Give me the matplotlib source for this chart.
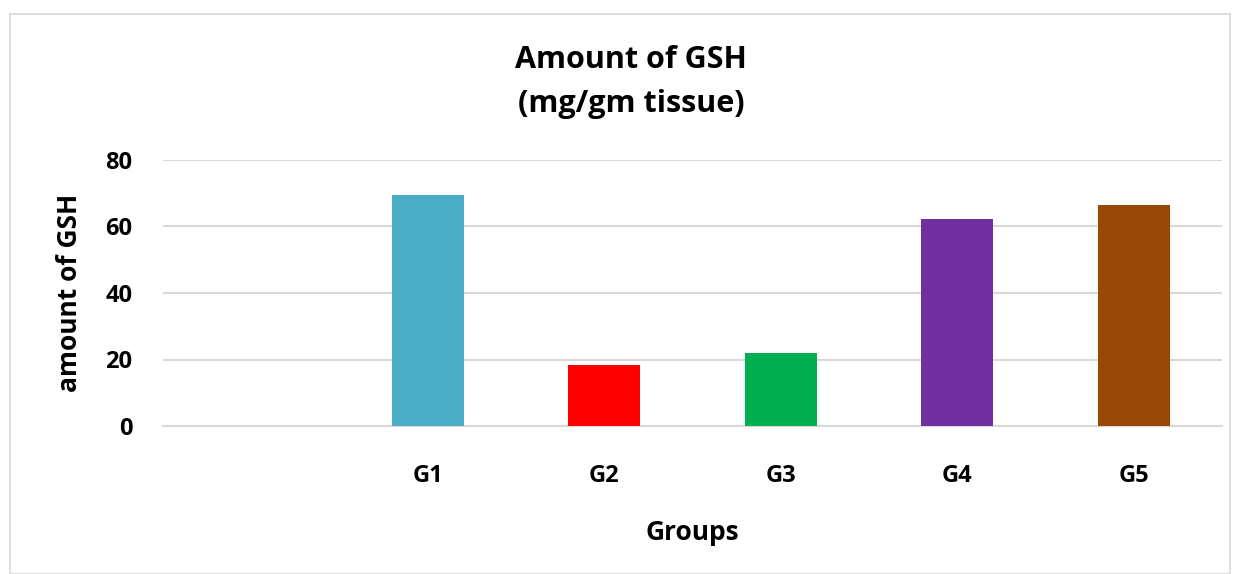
import matplotlib
matplotlib.use("Agg")
import matplotlib.pyplot as plt
from matplotlib.patches import Rectangle

categories = ["", "G1", "G2", "G3", "G4", "G5"]
values = [0, 69.5, 18.3, 22.0, 62.3, 66.5]
colors = ["#FFFFFF", "#4BACC6", "#FF0000", "#00B050", "#7030A0", "#974706"]
yticks = [0, 20, 40, 60, 80]

plt.rcParams['font.family'] = ['Open Sans', 'DejaVu Sans']

fig = plt.figure(figsize=(12.36, 5.74), dpi=100)
W, H = 1236, 574
ax = fig.add_axes([163 / W, 1 - 426 / H, (1222 - 163) / W, (426 - 160) / H])

x = list(range(len(categories)))
bars = ax.bar(x, values, width=0.41, color=colors, zorder=3)
bars[0].set_visible(False)

ax.set_xlim(-0.5, len(categories) - 0.5)
ax.set_ylim(0, 80)
ax.set_yticks(yticks)
ax.set_yticklabels([str(v) for v in yticks], fontsize=17, fontweight='bold')
ax.set_xticks(x)
ax.set_xticklabels(categories, fontsize=17, fontweight='bold')
ax.tick_params(axis='both', length=0)
ax.tick_params(axis='x', pad=27)
ax.tick_params(axis='y', pad=22)
ax.grid(axis='y', color='#D9D9D9', linewidth=1.5, zorder=0)
for s in ['top', 'right', 'left']:
    ax.spines[s].set_visible(False)
ax.spines['bottom'].set_color('#D9D9D9')
ax.spines['bottom'].set_linewidth(1.5)

ax.set_xlabel("Groups", fontsize=19, fontweight='bold', labelpad=23)
ax.set_ylabel("amount of GSH", fontsize=19, fontweight='bold', labelpad=16)

fig.text(631 / W, 1 - 82 / H, "Amount of GSH\n(mg/gm tissue)", ha='center', va='center',
         fontsize=22, fontweight='bold', linespacing=1.6)

fig.patches.append(Rectangle((10 / W, 0), (1230 - 10) / W, 1 - 14 / H, transform=fig.transFigure,
                             fill=False, edgecolor='#D9D9D9', linewidth=1.2))

fig.savefig("out.png", dpi=100, facecolor='white')
